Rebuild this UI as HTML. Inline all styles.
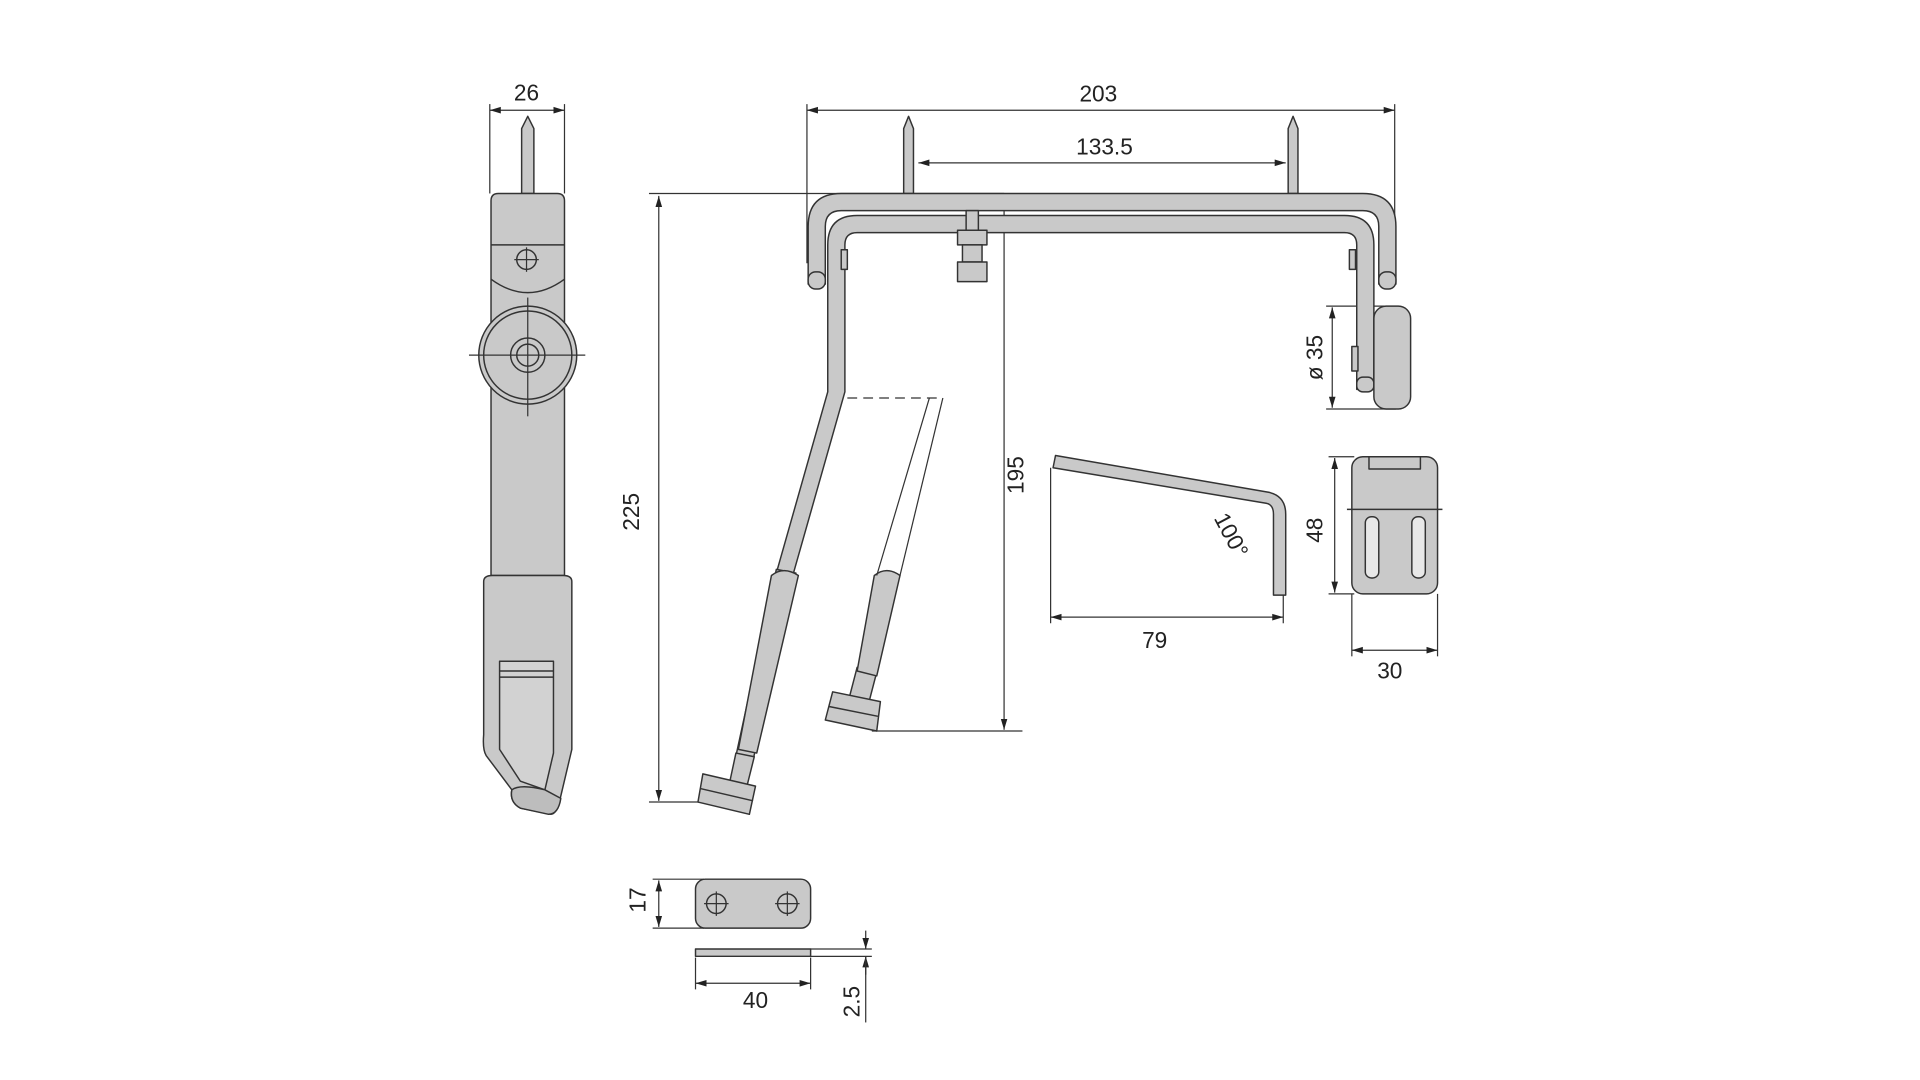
<!DOCTYPE html>
<html><head><meta charset="utf-8"><style>
html,body{margin:0;padding:0;background:#fff;}
svg{display:block}
text{font-family:"Liberation Sans",sans-serif;font-size:18.5px;fill:#222}
</style></head><body>
<svg width="1920" height="1080" viewBox="0 0 1568 882" xmlns="http://www.w3.org/2000/svg">
<defs>
<marker id="a" viewBox="0 0 10 10" refX="10" refY="5" markerWidth="9" markerHeight="9" orient="auto-start-reverse" markerUnits="userSpaceOnUse"><path d="M0,2 L10,5 L0,8 z" fill="#222"/></marker>
</defs>
<g stroke="#333" stroke-width="1" fill="none">
<line x1="400" y1="90" x2="461" y2="90" marker-start="url(#a)" marker-end="url(#a)"/>
<line x1="400" y1="85" x2="400" y2="158"/><line x1="461" y1="85" x2="461" y2="158"/>
<line x1="659" y1="90" x2="1139" y2="90" marker-start="url(#a)" marker-end="url(#a)"/>
<line x1="659" y1="85" x2="659" y2="215"/><line x1="1139" y1="85" x2="1139" y2="215"/>
<line x1="750" y1="133" x2="1050" y2="133" marker-start="url(#a)" marker-end="url(#a)"/>
<line x1="538" y1="160" x2="538" y2="654" marker-start="url(#a)" marker-end="url(#a)"/>
<line x1="530" y1="158" x2="820" y2="158"/><line x1="530" y1="655" x2="575" y2="655"/>
<line x1="820" y1="160" x2="820" y2="596" marker-start="url(#a)" marker-end="url(#a)"/>
<line x1="712" y1="597" x2="835" y2="597"/>
<line x1="1088" y1="251" x2="1088" y2="333" marker-start="url(#a)" marker-end="url(#a)"/>
<line x1="1083" y1="250" x2="1140" y2="250"/><line x1="1083" y1="334" x2="1140" y2="334"/>
<line x1="858" y1="504" x2="1048" y2="504" marker-start="url(#a)" marker-end="url(#a)"/>
<line x1="858" y1="382" x2="858" y2="509"/><line x1="1048" y1="478" x2="1048" y2="509"/>
<line x1="1090" y1="374" x2="1090" y2="484" marker-start="url(#a)" marker-end="url(#a)"/>
<line x1="1085" y1="373" x2="1106" y2="373"/><line x1="1085" y1="485" x2="1106" y2="485"/>
<line x1="1104" y1="531" x2="1174" y2="531" marker-start="url(#a)" marker-end="url(#a)"/>
<line x1="1104" y1="485" x2="1104" y2="536"/><line x1="1174" y1="485" x2="1174" y2="536"/>
<line x1="538" y1="719" x2="538" y2="757" marker-start="url(#a)" marker-end="url(#a)"/>
<line x1="533" y1="718" x2="575" y2="718"/><line x1="533" y1="758" x2="575" y2="758"/>
<line x1="568" y1="803" x2="662" y2="803" marker-start="url(#a)" marker-end="url(#a)"/>
<line x1="568" y1="782" x2="568" y2="808"/><line x1="662" y1="782" x2="662" y2="808"/>
<line x1="662" y1="775" x2="712" y2="775"/><line x1="662" y1="781" x2="712" y2="781"/>
<line x1="707" y1="760" x2="707" y2="775" marker-end="url(#a)"/>
<line x1="707" y1="796" x2="707" y2="781" marker-end="url(#a)"/>
<line x1="707" y1="781" x2="707" y2="835"/>
</g>

<g stroke="#333" stroke-width="1.2" fill="#c9c9c9" stroke-linejoin="round">
<path d="M426,158 V105 L431,95 L436,105 V158 z"/>
<path d="M401,470 V164 Q401,158 407,158 H455 Q461,158 461,164 V470 z"/>
<line x1="401" y1="200" x2="461" y2="200"/>
<path d="M401,228 Q431,250 461,228" fill="none"/>
<circle cx="430" cy="212" r="8" fill="none"/>
<path d="M395,475 Q395,470 402,470 H460 Q467,470 467,475 V612 L458,650 Q455,665 450,665 L425,660 Q416,655 418,645 L397,617 Q394,612 395,600 z"/>
<path d="M408,540 H452 V615 L445,645 L425,638 L408,612 z" fill="#d2d2d2"/>
<line x1="408" y1="548" x2="452" y2="548"/><line x1="408" y1="553" x2="452" y2="553"/>
<path d="M418,645 Q425,640 445,645 L458,652 Q456,665 448,665 L425,660 Q416,655 418,645 z" fill="#bdbdbd"/>
<ellipse cx="431" cy="290" rx="40" ry="40"/>
<ellipse cx="431" cy="290" rx="36" ry="36" fill="none"/>
<circle cx="431" cy="290" r="14" fill="none"/><circle cx="431" cy="290" r="9" fill="none"/>
<path d="M738,158 V105 L742,95 L746,105 V158 z"/>
<path d="M1052,158 V105 L1056,95 L1060,105 V158 z"/>
<path d="M660,232 V185 Q660,158 687,158 H1113 Q1140,158 1140,185 V232 H1126 V185 Q1126,172 1113,172 H687 Q674,172 674,185 V232 z"/>
<path d="M676,320 V200 Q676,176 700,176 H1098 Q1122,176 1122,200 V318 H1108 V200 Q1108,190 1098,190 H700 Q690,190 690,200 V320 L648,468 H634 z"/>
<rect x="660" y="222" width="14" height="14" rx="6"/><rect x="1126" y="222" width="14" height="14" rx="6"/>
<rect x="1108" y="308" width="14" height="12" rx="5"/>
<rect x="687" y="204" width="5" height="16"/><rect x="1102" y="204" width="5" height="16"/>
<rect x="1104" y="283" width="5" height="20"/>
<rect x="789" y="172" width="10" height="16"/>
<rect x="782" y="188" width="24" height="12"/>
<rect x="786" y="200" width="16" height="14"/>
<rect x="782" y="214" width="24" height="16"/>
<rect x="1122" y="250" width="30" height="84" rx="10"/>
<path d="M634,465 L650,468 L614,625 L600,622 z"/>
<path d="M601,615 L616,618 L609,646 L595,643 z"/>
<path d="M630,470 Q640,462 652,470 L618,615 L603,612 z"/>
<path d="M574,632 L617,642 L612,665 L570,655 z"/>
<line x1="572" y1="644" x2="615" y2="654"/>
<path d="M700,545 L716,549 L710,572 L694,568 z"/>
<path d="M714,470 Q724,462 735,470 L716,552 L700,548 z"/>
<path d="M680,565 L719,573 L716,597 L674,588 z"/>
<line x1="677" y1="577" x2="717" y2="585"/>
<path d="M862,372 L1036,402 Q1050,405 1050,420 V486 H1040 V420 Q1040,412 1034,411 L860,382 z"/>
<rect x="1104" y="373" width="70" height="112" rx="9"/>
<rect x="1118" y="373" width="42" height="10" fill="none"/>
<line x1="1100" y1="416" x2="1178" y2="416"/>
<rect x="1115" y="422" width="11" height="50" rx="5" fill="#e8e8e8"/>
<rect x="1153" y="422" width="11" height="50" rx="5" fill="#e8e8e8"/>
<rect x="568" y="718" width="94" height="40" rx="8"/>
<circle cx="585" cy="738" r="8" fill="none"/><circle cx="643" cy="738" r="8" fill="none"/>
<rect x="568" y="775" width="94" height="6"/>
</g>
<g stroke="#333" stroke-width="1" fill="none">
<line x1="692" y1="325" x2="770" y2="325" stroke-dasharray="8,5"/>
<line x1="759" y1="325" x2="716" y2="470"/><line x1="770" y1="325" x2="735" y2="470"/>
<line x1="383" y1="290" x2="478" y2="290"/><line x1="431" y1="243" x2="431" y2="340"/>
<line x1="420" y1="212" x2="440" y2="212"/><line x1="430" y1="202" x2="430" y2="222"/>
<line x1="575" y1="738" x2="595" y2="738"/><line x1="585" y1="728" x2="585" y2="748"/>
<line x1="633" y1="738" x2="653" y2="738"/><line x1="643" y1="728" x2="643" y2="748"/>
</g>

<text x="430" y="82" text-anchor="middle">26</text>
<text x="897" y="83" text-anchor="middle">203</text>
<text x="902" y="126" text-anchor="middle">133.5</text>
<text transform="translate(522,418) rotate(-90)" text-anchor="middle">225</text>
<text transform="translate(836,388) rotate(-90)" text-anchor="middle">195</text>
<text transform="translate(1080,292) rotate(-90)" text-anchor="middle">ø 35</text>
<text transform="translate(1000,440) rotate(62)" text-anchor="middle">100°</text>
<text x="943" y="529" text-anchor="middle">79</text>
<text transform="translate(1080,433) rotate(-90)" text-anchor="middle">48</text>
<text x="1135" y="554" text-anchor="middle">30</text>
<text transform="translate(527,735) rotate(-90)" text-anchor="middle">17</text>
<text x="617" y="823" text-anchor="middle">40</text>
<text transform="translate(702,818) rotate(-90)" text-anchor="middle">2.5</text>
</svg>
</body></html>
